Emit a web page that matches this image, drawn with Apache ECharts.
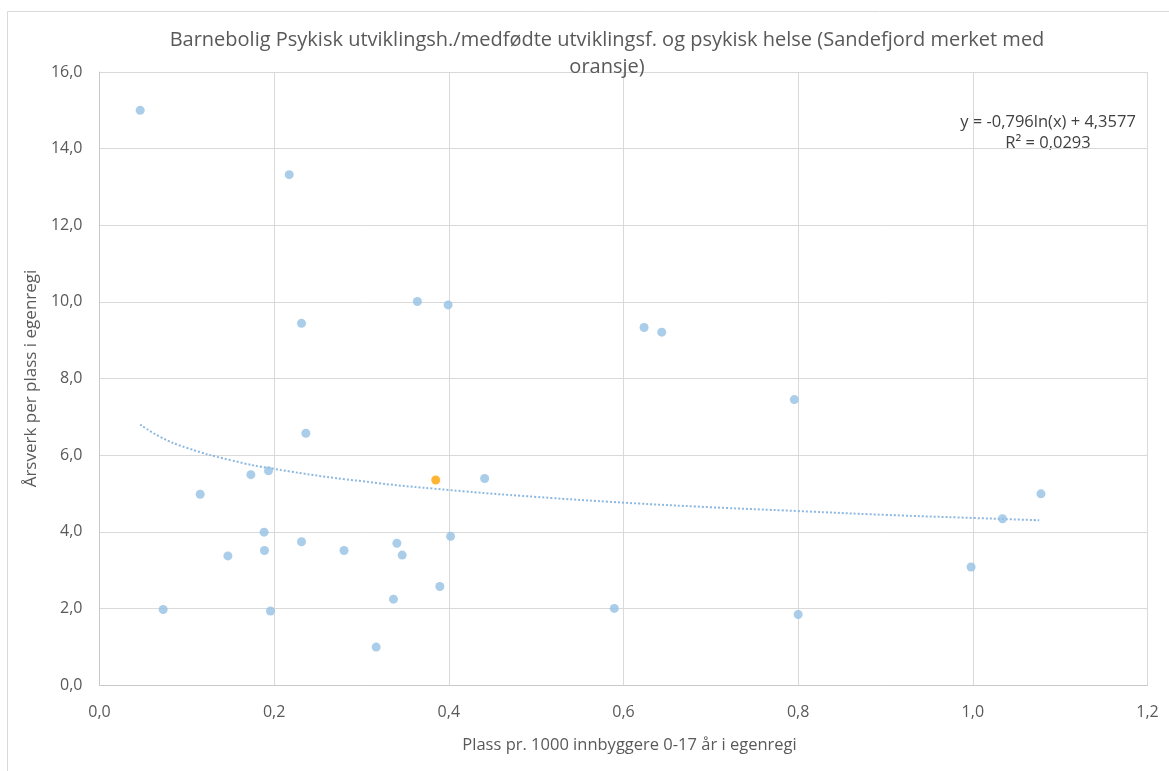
<!DOCTYPE html>
<html>
<head>
<meta charset="utf-8">
<script src="https://cdn.jsdelivr.net/npm/echarts@6/dist/echarts.min.js"></script>
<style>
html,body{margin:0;padding:0;background:#fff;}
#c{width:1169px;height:771px;}
</style>
</head>
<body>
<div id="c"></div>
<script>
// Blue points (kommuner): x = plass per 1000 innbyggere, y = årsverk per plass
const xBlue = [0.0466,0.2172,0.2313,0.3640,0.3992,0.2363,0.1733,0.1935,0.1153,0.4410,
               0.1885,0.1889,0.1470,0.2313,0.2800,0.3405,0.3466,0.4020,0.3897,0.3366,
               0.0729,0.1958,0.3168,0.6236,0.6438,0.7956,1.0780,1.0340,0.9980,0.5895,0.8000];
const yBlue = [15.00,13.32,9.44,10.01,9.92,6.57,5.49,5.59,4.98,5.39,
               3.99,3.51,3.37,3.74,3.51,3.70,3.39,3.88,2.57,2.24,
               1.97,1.93,0.99,9.33,9.21,7.45,4.99,4.34,3.08,2.00,1.84];
// Sandefjord (orange)
const xOrange = [0.385];
const yOrange = [5.35];
// Trend line points
const xTrend = [0.0466,0.07,0.1,0.15,0.2,0.3,0.4,0.5,0.6,0.7,0.8,0.9,1.0,1.076];
const yTrend = [6.80,6.47,6.19,5.87,5.64,5.32,5.09,4.91,4.76,4.64,4.54,4.44,4.36,4.30];

const titleText = 'Barnebolig Psykisk utviklingsh./medfødte utviklingsf. og psykisk helse (Sandefjord merket med\noransje)';
const eqLine1 = 'y = -0,796ln(x) + 4,3577';
const eqLine2 = 'R² = 0,0293';
const xName = 'Plass pr. 1000 innbyggere 0-17 år i egenregi';
const yName = 'Årsverk per plass i egenregi';

const FONT = '"Open Sans", "Liberation Sans", sans-serif';
const fmt = v => v.toFixed(1).replace('.', ',');
const zip = (a, b) => a.map((v, i) => [v, b[i]]);

const chart = echarts.init(document.getElementById('c'), null, {renderer: 'canvas'});
chart.setOption({
  animation: false,
  backgroundColor: '#ffffff',
  title: {
    text: titleText,
    left: 602,
    top: 22,
    textAlign: 'center',
    textStyle: {fontFamily: FONT, fontSize: 20, fontWeight: 'normal', color: '#595959', lineHeight: 27}
  },
  grid: {left: 99.5, right: 21.5, top: 72, bottom: 86, containLabel: false},
  xAxis: {
    type: 'value', min: 0, max: 1.2, interval: 0.2,
    name: xName, nameLocation: 'middle', nameGap: 52,
    nameTextStyle: {fontFamily: FONT, fontSize: 16.5, color: '#595959', padding: [0, 0, 0, 12]},
    axisLine: {show: true, lineStyle: {color: '#C9C9C9', width: 1}},
    axisTick: {show: false},
    axisLabel: {formatter: fmt, margin: 19, fontFamily: FONT, fontSize: 16, color: '#595959'},
    splitLine: {show: true, lineStyle: {color: '#D9D9D9', width: 1}}
  },
  yAxis: {
    type: 'value', min: 0, max: 16, interval: 2,
    name: yName, nameLocation: 'middle', nameGap: 59,
    nameTextStyle: {fontFamily: FONT, fontSize: 17, color: '#595959'},
    axisLine: {show: true, lineStyle: {color: '#C9C9C9', width: 1}},
    axisTick: {show: false},
    axisLabel: {formatter: fmt, margin: 17, fontFamily: FONT, fontSize: 16, color: '#595959'},
    splitLine: {show: true, lineStyle: {color: '#D9D9D9', width: 1}}
  },
  graphic: [
    {type: 'rect', z: -1, shape: {x: 7.5, y: 11.5, width: 1200, height: 800},
     style: {fill: 'none', stroke: '#D9D9D9', lineWidth: 1}, silent: true},
    {type: 'text', x: 1048, y: 122, style: {text: eqLine1, textAlign: 'center', textVerticalAlign: 'middle',
      font: '16.5px ' + FONT, fill: '#404040'}},
    {type: 'text', x: 1048, y: 143, style: {text: eqLine2, textAlign: 'center', textVerticalAlign: 'middle',
      font: '16.5px ' + FONT, fill: '#404040'}}
  ],
  series: [
    {
      type: 'line', data: zip(xTrend, yTrend), smooth: true, symbol: 'none',
      lineStyle: {color: '#8DB8E0', width: 2, type: [2, 2]}, z: 1, silent: true
    },
    {
      type: 'scatter', data: zip(xBlue, yBlue), symbol: 'circle', symbolSize: 9,
      itemStyle: {color: '#95C0E4'}, z: 2
    },
    {
      type: 'scatter', data: zip(xOrange, yOrange), symbol: 'circle', symbolSize: 9,
      itemStyle: {color: '#FFA200'}, z: 3
    }
  ]
});
</script>
</body>
</html>
